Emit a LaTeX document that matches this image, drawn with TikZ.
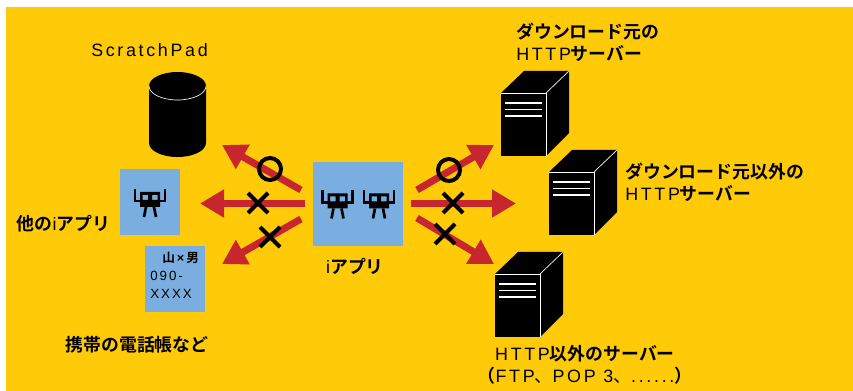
\documentclass[tikz,border=0pt]{standalone}
\usepackage{fontspec}
\setmainfont{Liberation Sans}[LetterSpace=15]
\newfontfamily\jpfont{Noto Sans CJK JP Bold}
\newfontfamily\jpthin{Noto Sans CJK JP}
\usepackage{tikz}
\usetikzlibrary{%
	calc,%
	arrows.meta
}
\definecolor{bgyellow}{RGB}{255,202,8}
\definecolor{appblue}{RGB}{122,174,224}
\definecolor{arrowred}{RGB}{200,38,46}
\newcommand{\jp}[1]{{\jpfont #1}}
% one robot, drawn around its centre
\newcommand{\robot}[1]{%
	\begin{scope}[shift={(#1)}]
		\draw[line width=1.6pt] (-15,-14) -- (-15,-2) -- (-9,-2);
		\draw[line width=1.6pt] (15,-14) -- (15,-2) -- (9,-2);
		\fill[even odd rule] (-10,-11) rectangle (10,4)
			(-7.5,-8) rectangle (-2,-3) (2,-8) rectangle (7.5,-3);
		\draw[line width=2pt] (-4,4) -- (-6,14);
		\draw[line width=2pt] (4,4) -- (6,14);
	\end{scope}}
% one server, drawn from its top left front corner
\newcommand{\server}[1]{%
	\begin{scope}[shift={(#1)}]
		\fill (0,0) -- (23,-22) -- (68,-22) -- (68,40) -- (45,63) -- (0,63) -- cycle;
		\draw[white,line width=.5pt] (0,0) -- (45,0) -- (45,63);
		\draw[white,line width=.5pt] (45,0) -- (68,-22);
		\foreach \dy in {10,16.5,23}
		\draw[white,line width=1.2pt] (4,\dy) -- (41,\dy);
	\end{scope}}
\tikzset{
	label/.style={inner sep=0pt,align=left,font=\fontsize{13.4}{16.5}\selectfont},
	appbox/.style={fill=appblue,inner sep=0pt,anchor=north west},
	redarrow/.style={draw=arrowred,line width=5.25pt,-{Triangle[length=18pt,width=20pt]}},
	okmark/.style={draw=black,line width=3pt,circle,minimum size=16.5pt,inner sep=0pt},
	ngmark/.style={line width=3pt}
}
\begin{document}
\begin{tikzpicture}[x=0.75pt,y=-0.75pt]
	\useasboundingbox (0,0) rectangle (853,391);
	\fill[bgyellow] (6,7) rectangle (853,391);

	% App boxes
	\node[appbox,minimum width=45pt,minimum height=49.5pt] (other) at (120,169) {};
	\node[appbox,minimum width=45pt,minimum height=49.5pt] (phone) at (145,246) {};
	\node[appbox,minimum width=67.5pt,minimum height=63pt] (app) at (313,162) {};
	\robot{150,203}
	\robot{337.5,204.5}
	\robot{379,204.5}

	% Database
	\fill (149,86) -- (149,143) arc[start angle=180,end angle=360,x radius=28.5,y radius=-14] -- (206,86) -- cycle;
	\fill (149,86) arc[start angle=180,end angle=-180,x radius=28.5,y radius=14];
	\draw[white,line width=.5pt] (149,86) arc[start angle=180,end angle=360,x radius=28.5,y radius=-14];
	\node[label] (scratch) at (149.5,50) {ScratchPad};

	% Servers
	\server{501,93}
	\server{549,172}
	\server{495,274}

	% Arrows
	\coordinate (a1) at (301,190);
	\coordinate (a2) at (305,203.5);
	\coordinate (a3) at (301,219);
	\coordinate (b1) at (222,145);
	\coordinate (b2) at (200,203.5);
	\coordinate (b3) at (222,264);
	\coordinate (c1) at (417,190);
	\coordinate (c2) at (411,203.5);
	\coordinate (c3) at (417,218);
	\coordinate (d1) at (494,145);
	\coordinate (d2) at (516,203.5);
	\coordinate (d3) at (494,264);
	\foreach \from/\to in {a1/b1,a2/b2,a3/b3,c1/d1,c2/d2,c3/d3}
	\draw[redarrow] (\from) -- (\to);

	% Marks
	\node[okmark] (ok1) at (270,169) {};
	\node[okmark] (ok2) at (449,170) {};
	\foreach \x/\y in {258/203,270/237,453/203,445/234}
	{
		\draw[ngmark] (\x-10,\y-10) -- (\x+10,\y+10);
		\draw[ngmark] (\x-10,\y+10) -- (\x+10,\y-10);
	}

	% Labels
	\node[label] (otherlbl) at (63.5,224) {\jp{他の}i\jp{アプリ}};
	\node[label] (applbl) at (355,266) {i\jp{アプリ}};
	\node[label] (phonelbl) at (137,345) {\jp{携帯の電話帳など}};
	\node[label,font=\fontsize{10}{13.5}\selectfont,anchor=north west] (phonetxt) at (150,252) {\hspace{9pt}{\fontsize{9.5}{13.5}\selectfont\jp{山}\kern1.5pt{\addfontfeature{LetterSpace=0}\bfseries ×}\kern1.5pt\jp{男}}\\090-\\XXXX};
	\node[label,anchor=north west] (srv1) at (516,23) {\jp{ダウンロード元の}\\HTTP\jp{サーバー}};
	\node[label,anchor=north west] (srv2) at (625,163) {\jp{ダウンロード元以外の}\\HTTP\jp{サーバー}};
	\node[label,align=center,anchor=north] (srv3) at (585,345) {HTTP\jp{以外のサーバー}\\\jp{（}FTP{\jpthin 、}POP 3{\jpthin 、}......\jp{）}};
\end{tikzpicture}
\end{document}
